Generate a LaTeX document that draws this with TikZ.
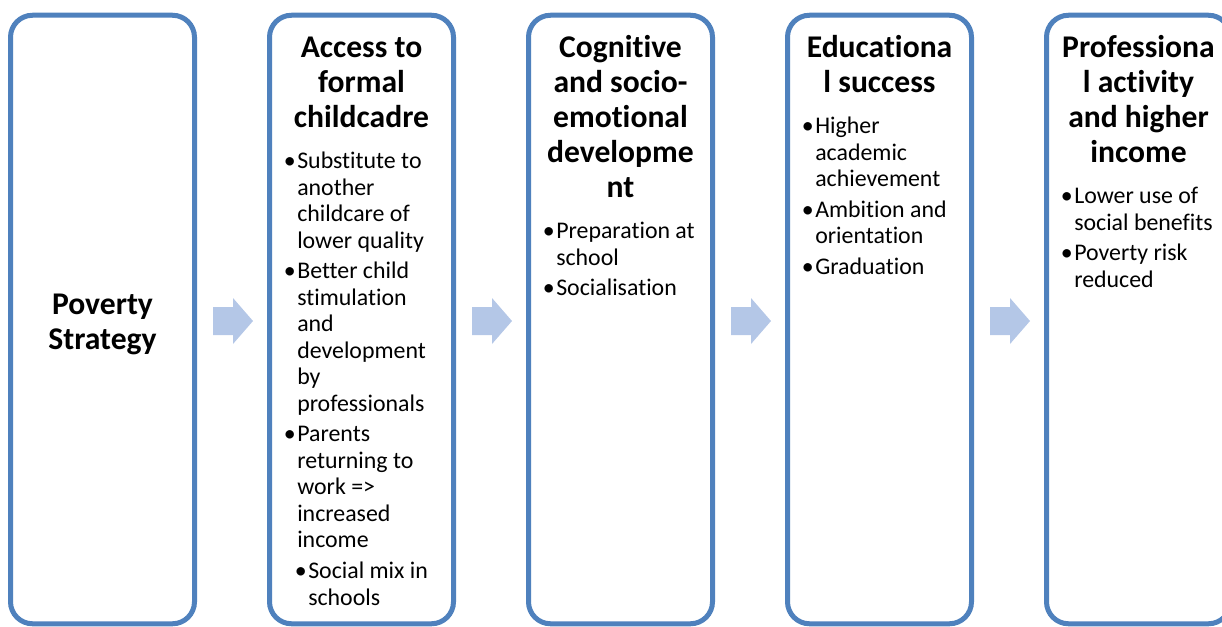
\documentclass[tikz,border=0pt]{standalone}
\usepackage{fontspec}
\setmainfont{Carlito}[Ligatures=NoCommon]
\usetikzlibrary{calc}
\definecolor{stageblue}{RGB}{79,129,189}
\definecolor{arrowblue}{RGB}{180,199,231}
\tikzset{
  stagebox/.style={draw=stageblue, line width=3.75pt, rounded corners=16.5pt,
    fill=white, minimum width=138pt, minimum height=456.4pt, inner sep=0pt},
  stagetitle/.style={font={\fontsize{23.7}{26.25}\selectfont\bfseries},
    inner sep=0pt, anchor=base},
  stagebody/.style={font={\fontsize{17.9}{19.9}\selectfont},
    inner sep=0pt, anchor=base west},
  flowarrow/.style={fill=arrowblue}
}
% bullet hanging to the left of the item text
\newcommand\bul{\llap{\textbullet\kern1.2pt}}
% block arrow centred on a named coordinate
\newcommand\blockarrow[1]{%
  \fill[flowarrow] ($(#1)+(-20,-14)$) -- ++(20,0) -- ++(0,-9) -- ++(20,23)
    -- ++(-20,23) -- ++(0,-9) -- ++(-20,0) -- cycle;}
\begin{document}
\begin{tikzpicture}[x=0.75pt, y=-0.75pt]
  \useasboundingbox (0,0) rectangle (1222,626);
  \clip (0,0) rectangle (1222,626);

  % stage frames
  \node[stagebox] (s1) at (102.5,319.5) {};
  \node[stagebox] (s2) at (361.5,319.5) {};
  \node[stagebox] (s3) at (620.5,319.5) {};
  \node[stagebox] (s4) at (879.5,319.5) {};
  \node[stagebox] (s5) at (1138.5,319.5) {};

  % arrows between the stages
  \coordinate (g12) at ($(s1.east)!0.5!(s2.west)+(1,1.5)$);
  \coordinate (g23) at ($(s2.east)!0.5!(s3.west)+(1,1.5)$);
  \coordinate (g34) at ($(s3.east)!0.5!(s4.west)+(1,1.5)$);
  \coordinate (g45) at ($(s4.east)!0.5!(s5.west)+(1,1.5)$);
  \blockarrow{g12}
  \blockarrow{g23}
  \blockarrow{g34}
  \blockarrow{g45}

  % stage 1
  \node[stagetitle] (t1) at (102.5,314) {\begin{tabular}[t]{@{}c@{}}Poverty\\Strategy\end{tabular}};

  % stage 2
  \node[stagetitle] (t2) at (361.5,57) {\begin{tabular}[t]{@{}c@{}}Access to\\formal\\childcadre\end{tabular}};
  \node[stagebody] (b2) at (297,168.5) {\begin{tabular}[t]{@{}l@{}}
    \bul Substitute to\\ another\\ childcare of\\ lower quality\\[3pt]
    \bul Better child\\ stimulation\\ and\\ development\\ by\\ professionals\\[3pt]
    \bul Parents\\ returning to\\ work =>\\ increased\\ income\\[3pt]
    \kern8.25pt\bul Social mix in\\ \kern8.25pt schools
  \end{tabular}};

  % stage 3
  \node[stagetitle] (t3) at (620.5,57) {\begin{tabular}[t]{@{}c@{}}Cognitive\\and socio-\\emotional\\developme\\nt\end{tabular}};
  \node[stagebody] (b3) at (556,238.5) {\begin{tabular}[t]{@{}l@{}}
    \bul Preparation at\\ school\\[3pt]
    \bul Socialisation
  \end{tabular}};

  % stage 4
  \node[stagetitle] (t4) at (879.5,57) {\begin{tabular}[t]{@{}c@{}}Educationa\\l success\end{tabular}};
  \node[stagebody] (b4) at (815,133.5) {\begin{tabular}[t]{@{}l@{}}
    \bul Higher\\ academic\\ achievement\\[3pt]
    \bul Ambition and\\ orientation\\[3pt]
    \bul Graduation
  \end{tabular}};

  % stage 5
  \node[stagetitle] (t5) at (1138.5,57) {\begin{tabular}[t]{@{}c@{}}Professiona\\l activity\\and higher\\income\end{tabular}};
  \node[stagebody] (b5) at (1074,203.5) {\begin{tabular}[t]{@{}l@{}}
    \bul Lower use of\\ social benefits\\[3pt]
    \bul Poverty risk\\ reduced
  \end{tabular}};
\end{tikzpicture}
\end{document}
